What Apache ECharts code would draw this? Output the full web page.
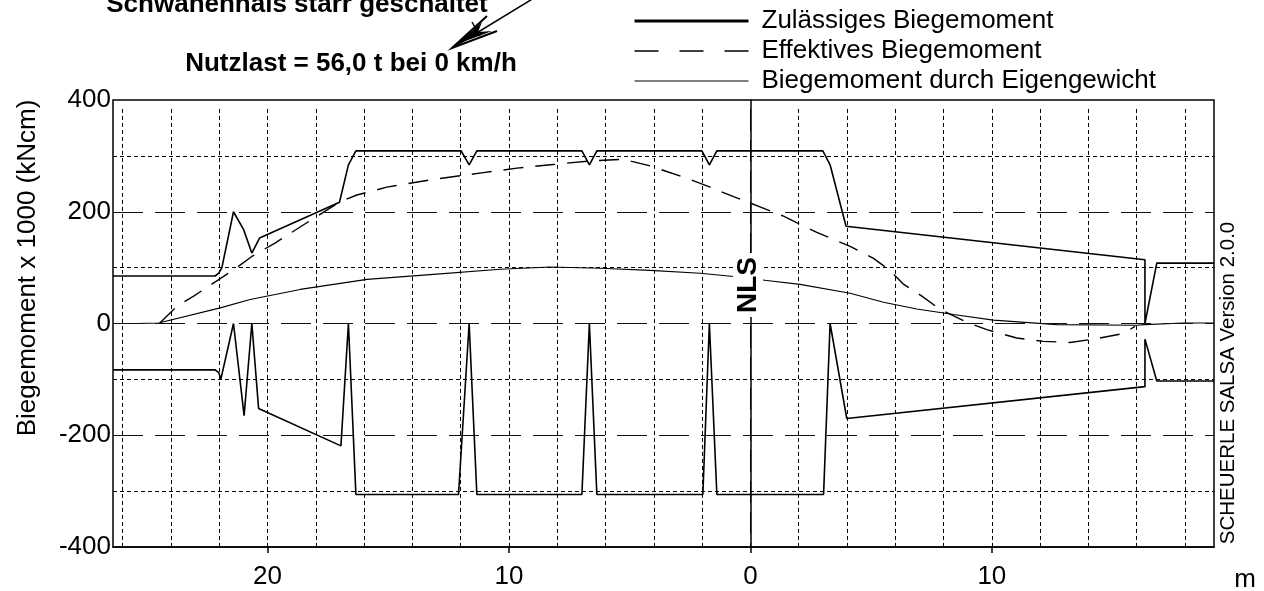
<!DOCTYPE html>
<html>
<head>
<meta charset="utf-8">
<script src="https://cdn.jsdelivr.net/npm/echarts@6/dist/echarts.min.js"></script>
<style>
html,body{margin:0;padding:0;background:#fff;}
#chart{width:1264px;height:591px;}
</style>
</head>
<body>
<div id="chart"></div>
<script>
// ---- data (x in m relative to NLS, y in kNcm x 1000) ----
const zulUpperX = [-26.4, -22.17, -22.02, -21.89, -21.41, -20.99, -20.65, -20.33, -17.02, -16.65, -16.34, -11.98, -11.65, -11.33, -6.98, -6.67, -6.36, -2.01, -1.70, -1.39, 3.0, 3.30, 3.96, 16.34, 16.34, 16.83, 19.2];
const zulUpperY = [85, 85, 90, 100, 200, 168, 126, 153, 217, 284, 309, 309, 284, 309, 309, 284, 309, 309, 284, 309, 309, 284, 174, 114, 0, 108, 108];

const zulLowerX = [-26.4, -22.17, -22.02, -21.93, -21.41, -20.97, -20.65, -20.37, -16.96, -16.65, -16.34, -12.09, -11.65, -11.33, -6.98, -6.67, -6.36, -1.97, -1.70, -1.39, 3.03, 3.30, 3.99, 16.34, 16.34, 16.83, 19.2];
const zulLowerY = [-83, -83, -88, -99, 0, -165, 0, -152, -219, 0, -306, -306, 0, -306, -306, 0, -306, -306, 0, -306, -306, 0, -170, -113, -28, -103, -103];

const effX = [-24.44, -23.75, -23.06, -21.41, -20.65, -19.69, -17.95, -16.99, -16.30, -15.06, -13.13, -11.06, -9.67, -8.29, -6.64, -5.26, -4.15, -2.77, -1.67, -0.70, 0.27, 1.37, 2.75, 4.13, 5.08, 5.78, 6.32, 7.10, 7.86, 9.03, 9.79, 11.03, 12.13, 13.24, 14.34, 15.45, 15.93];
const effY = [2, 31, 49, 96, 120, 144, 192, 218, 230, 244, 258, 270, 278, 284, 291, 294, 282, 262, 244, 227, 211, 192, 163, 138, 117, 95, 71, 49, 25, 1, -11, -26, -32, -34, -27, -18, -5];

const eigX = [-26.4, -25.41, -24.51, -21.96, -20.72, -18.65, -15.88, -13.13, -10.36, -8.29, -6.22, -4.15, -2.08, -0.70, 0.68, 2.05, 4.13, 5.51, 6.89, 8.41, 10.06, 12.69, 16.0, 16.34, 17.93, 19.2];
const eigY = [0, 0, 1, 28, 43, 61, 79, 88, 97, 101, 99, 95, 90, 84, 77, 70, 54, 38, 26, 16, 6, -2, -3, -2, 1, 1];

const xTickValues = [-20, -10, 0, 10];
const xGridMinor = [-26, -24, -22, -20, -18, -16, -14, -12, -10, -8, -6, -4, -2, 2, 4, 6, 8, 10, 12, 14, 16, 18];
const xGridMajor = [0];
const yGridMinor = [300, 100, -100, -300];
const yGridMajor = [200, 0, -200];
const vGridTop = 384;   // vertical grid lines start a little below the frame top
const yMin = -400, yMax = 400;

const seriesNames = ['Zulässiges Biegemoment', 'Effektives Biegemoment', 'Biegemoment durch Eigengewicht'];
const titleTop = 'Schwanenhals starr geschaltet';
const titleSub = 'Nutzlast = 56,0 t bei 0 km/h';
const yTitle = 'Biegemoment x 1000 (kNcm)';
const xUnit = 'm';
const nlsLabel = 'NLS';
const versionLabel = 'SCHEUERLE SALSA Version 2.0.0';

const zip = (a, b) => a.map((v, i) => [v, b[i]]);
const FONT = '"Liberation Sans", Arial, Helvetica, sans-serif';

const vLine = (v, style) => [{xAxis: v, yAxis: vGridTop, lineStyle: style}, {xAxis: v, yAxis: yMin}];
const minorStyle = {type: [4, 3], color: '#000', width: 1};
const gridLines = []
  .concat(xGridMinor.map(v => vLine(v, minorStyle)))
  .concat(xGridMajor.map(v => vLine(v, {type: [22, 9], color: '#000', width: 1})))
  .concat(yGridMinor.map(v => ({yAxis: v, lineStyle: minorStyle})))
  .concat(yGridMajor.map(v => ({yAxis: v, lineStyle: {type: [30, 12], color: '#111', width: 1}})));

const chart = echarts.init(document.getElementById('chart'), null, {renderer: 'canvas'});
chart.setOption({
  animation: false,
  backgroundColor: '#fff',
  textStyle: {fontFamily: FONT},
  grid: {left: 113, right: 50, top: 100, bottom: 44, show: true, borderColor: '#000', borderWidth: 1.5, backgroundColor: 'transparent'},
  legend: {
    orient: 'vertical', left: 633, top: 8, padding: 0, itemWidth: 114, itemHeight: 14, itemGap: 4,
    selectedMode: false,
    itemStyle: {opacity: 0},
    textStyle: {fontSize: 26, color: '#000', fontFamily: FONT, lineHeight: 26, padding: [0, 0, 0, 8]},
    data: [
      {name: seriesNames[0], lineStyle: {width: 3, color: '#000'}, itemStyle: {opacity: 0}},
      {name: seriesNames[1], lineStyle: {width: 1.5, color: '#000', type: [24, 21]}, itemStyle: {opacity: 0}},
      {name: seriesNames[2], lineStyle: {width: 1.2, color: '#000'}, itemStyle: {opacity: 0}}
    ]
  },
  xAxis: {
    type: 'value', min: -26.4, max: 19.2,
    axisLine: {show: true, onZero: false, lineStyle: {color: '#000', width: 1.5}},
    axisTick: {show: true, customValues: xTickValues, length: 6, lineStyle: {color: '#000', width: 1.5}},
    axisLabel: {customValues: xTickValues, formatter: v => String(Math.abs(v)), fontSize: 26, color: '#000', margin: 17, fontFamily: FONT},
    splitLine: {show: false}
  },
  yAxis: {
    type: 'value', min: yMin, max: yMax, interval: 200,
    axisLine: {show: true, lineStyle: {color: '#000', width: 1.5}},
    axisTick: {show: false},
    axisLabel: {fontSize: 26, color: '#000', margin: 2, fontFamily: FONT},
    splitLine: {show: false}
  },
  series: [
    {
      name: '_grid', type: 'line', data: [], silent: true, symbol: 'none',
      markLine: {silent: true, symbol: 'none', animation: false, label: {show: false}, emphasis: {disabled: true}, data: gridLines}
    },
    {name: seriesNames[0], type: 'line', data: zip(zulUpperX, zulUpperY), symbol: 'none', z: 3, lineStyle: {color: '#000', width: 1.6}, itemStyle: {color: '#000'}},
    {name: seriesNames[0], type: 'line', data: zip(zulLowerX, zulLowerY), symbol: 'none', z: 3, lineStyle: {color: '#000', width: 1.6}, itemStyle: {color: '#000'}},
    {name: seriesNames[1], type: 'line', data: zip(effX, effY), symbol: 'none', z: 3, lineStyle: {color: '#000', width: 1.4, type: [20, 12]}, itemStyle: {color: '#000'}},
    {name: seriesNames[2], type: 'line', data: zip(eigX, eigY), symbol: 'none', z: 3, lineStyle: {color: '#000', width: 1.1}, itemStyle: {color: '#000'}}
  ],
  graphic: [
    {type: 'text', x: 297, y: 5, z: 50, style: {text: titleTop, fontSize: 26, fontWeight: 'bold', fontFamily: FONT, fill: '#000', align: 'center', verticalAlign: 'middle'}},
    {type: 'text', x: 351, y: 64, z: 50, style: {text: titleSub, fontSize: 26, fontWeight: 'bold', fontFamily: FONT, fill: '#000', align: 'center', verticalAlign: 'middle'}},
    {type: 'text', x: 28, y: 268, rotation: Math.PI / 2, z: 50, style: {text: yTitle, fontSize: 26, fontFamily: FONT, fill: '#000', align: 'center', verticalAlign: 'middle'}},
    {type: 'text', x: 1245, y: 580, z: 50, style: {text: xUnit, fontSize: 26, fontFamily: FONT, fill: '#000', align: 'center', verticalAlign: 'middle'}},
    {type: 'text', x: 748, y: 285, rotation: Math.PI / 2, z: 60, style: {text: nlsLabel, fontSize: 28, fontWeight: 'bold', fontFamily: FONT, fill: '#000', align: 'center', verticalAlign: 'middle', backgroundColor: '#fff', padding: [1, 4]}},
    {type: 'text', x: 1228, y: 383, rotation: Math.PI / 2, z: 50, style: {text: versionLabel, fontSize: 20.5, fontFamily: FONT, fill: '#000', align: 'center', verticalAlign: 'middle'}},
    {type: 'polyline', z: 50, shape: {points: [[534, -2], [452, 48]]}, style: {stroke: '#000', lineWidth: 1.5, fill: null}},
    {type: 'polyline', z: 50, shape: {points: [[487, 16], [452, 48], [497, 31]]}, style: {stroke: '#000', lineWidth: 2, fill: null}},
    {type: 'polygon', z: 50, shape: {points: [[455, 45], [482, 22], [478, 32], [492, 31]]}, style: {fill: '#000'}},
    {type: 'polyline', z: 50, shape: {points: [[472, 22], [480, 36]]}, style: {stroke: '#000', lineWidth: 1.5, fill: null}}
  ]
});
</script>
</body>
</html>
